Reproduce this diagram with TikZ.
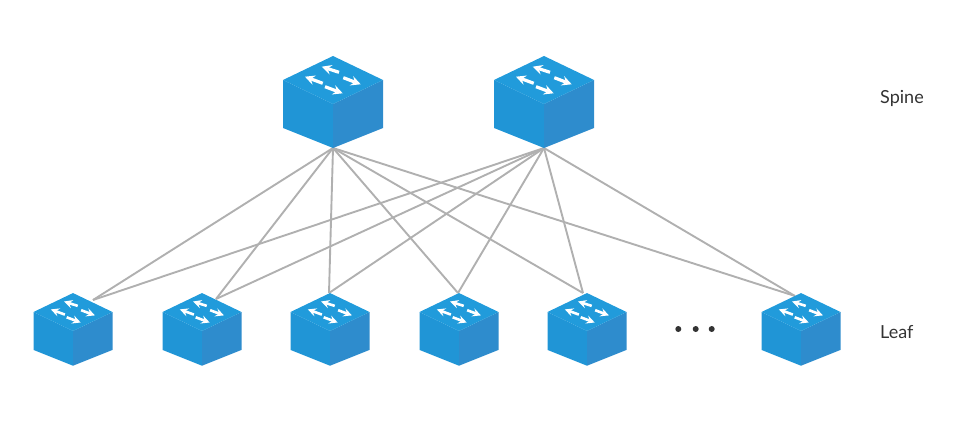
\documentclass[tikz,border=0pt]{standalone}
\usepackage{fontspec}
\setmainfont{Lato}
\definecolor{topblue}{HTML}{219BDB}
\definecolor{leftblue}{HTML}{2095D6}
\definecolor{rightblue}{HTML}{2E8CCD}
\definecolor{linkgray}{HTML}{B0B0B0}
\definecolor{textgray}{HTML}{333333}
\tikzset{
	link/.style={draw=linkgray,line width=1.9pt},
	lbl/.style={anchor=west,inner sep=0pt,text=textgray,font=\fontsize{18}{20}\selectfont},
	pics/switch/.style={code={
		\fill[leftblue] (-50,0) -- (0,24) -- (0,68) -- (-50,48) -- cycle;
		\fill[rightblue] (50,0) -- (0,24) -- (0,68) -- (50,48) -- cycle;
		\fill[topblue] (0,-24) -- (50,0) -- (0,24) -- (-50,0) -- cycle;
		\draw[white,line width=#1,-stealth] (6,-7.7) -- (-11.3,-13.3);
		\draw[white,line width=#1,-stealth] (10.3,-2.3) -- (27.7,4.3);
		\draw[white,line width=#1,-stealth] (-10.3,3.3) -- (-28,-3.3);
		\draw[white,line width=#1,-stealth] (-8,6.7) -- (9.7,13.3);
	}}
}
\begin{document}
\begin{tikzpicture}[x=1pt,y=-1pt,>=stealth]
	\useasboundingbox (0,0) rectangle (960,420);
	\path
	(333,148) coordinate (s1)
	(544,148) coordinate (s2)
	(93,300) coordinate (l1)
	(216,299) coordinate (l2)
	(329,293) coordinate (l3)
	(458,293) coordinate (l4)
	(583,293) coordinate (l5)
	(795,296) coordinate (l6)
	;
	\draw[link] (s1) -- (l1);
	\draw[link] (s1) -- (l2);
	\draw[link] (s1) -- (l3);
	\draw[link] (s1) -- (l4);
	\draw[link] (s1) -- (l5);
	\draw[link] (s1) -- (l6);
	\draw[link] (s2) -- (l1);
	\draw[link] (s2) -- (l2);
	\draw[link] (s2) -- (l3);
	\draw[link] (s2) -- (l4);
	\draw[link] (s2) -- (l5);
	\draw[link] (s2) -- (l6);
	\pic at (333,80) {switch=3.2pt};
	\pic at (544,80) {switch=3.2pt};
	\pic[scale=0.79] at (73,312) {switch=2.6pt};
	\pic[scale=0.79] at (202,312) {switch=2.6pt};
	\pic[scale=0.79] at (330,312) {switch=2.6pt};
	\pic[scale=0.79] at (459,312) {switch=2.6pt};
	\pic[scale=0.79] at (587,312) {switch=2.6pt};
	\pic[scale=0.79] at (801,312) {switch=2.6pt};
	\fill[textgray] (678.3,329) circle (3) (695.7,329) circle (3) (711.7,329) circle (3);
	\draw (880,98.5) node[lbl] (spine) {Spine};
	\draw (880,332.5) node[lbl] (leaf) {Leaf};
\end{tikzpicture}
\end{document}
